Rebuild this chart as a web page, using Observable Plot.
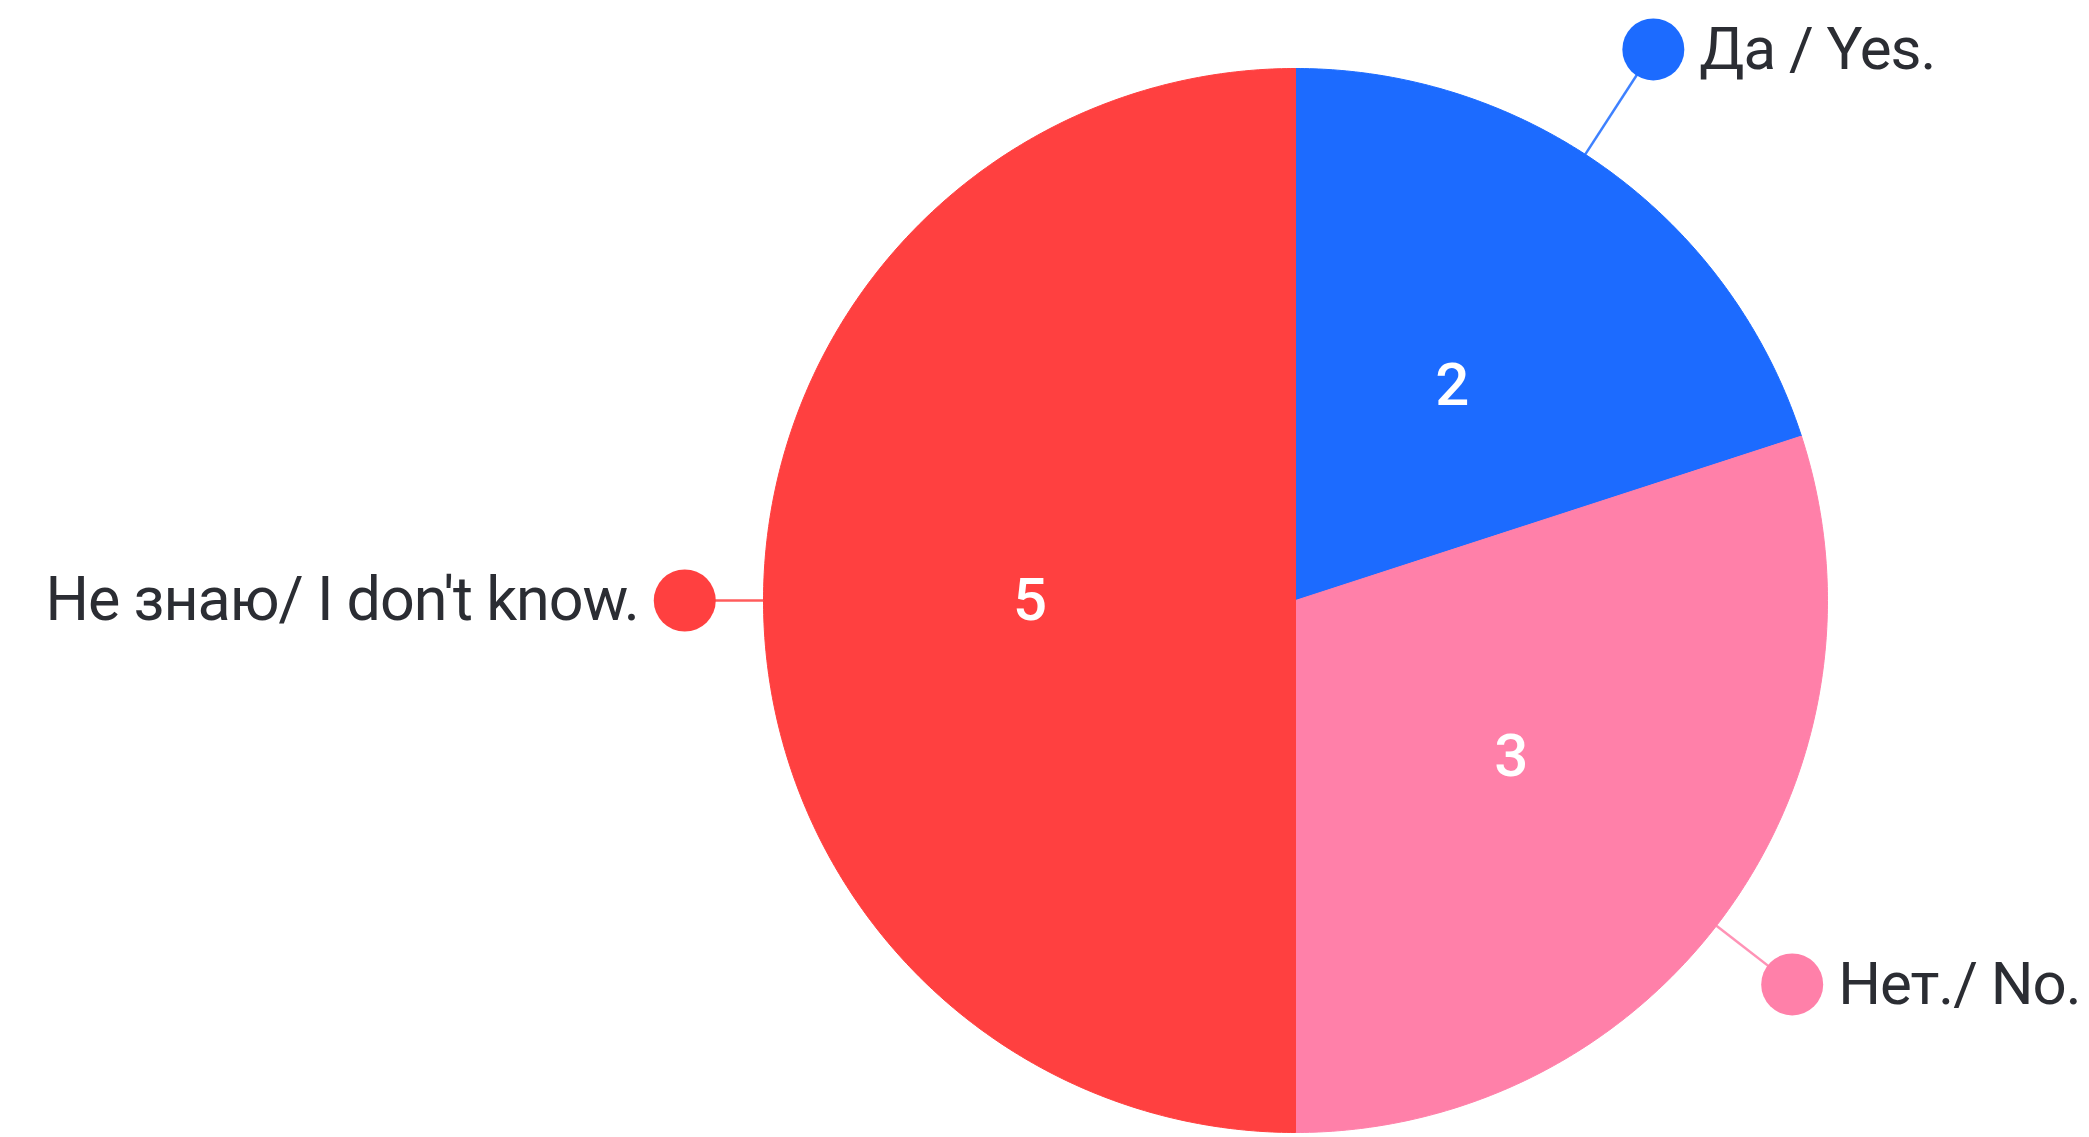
<!DOCTYPE html>
<html><head><meta charset="utf-8">
<script src="https://cdn.jsdelivr.net/npm/d3@7"></script>
<script src="https://cdn.jsdelivr.net/npm/@observablehq/plot@0.6"></script>
<style>
html,body{margin:0;padding:0;background:#fff;overflow:hidden}
#chart svg g[aria-label="text"] text{letter-spacing:-1px}
</style>
</head><body><div id="chart"></div>
<script>
// ---- data ----
const categories = ["Да / Yes.", "Нет./ No.", "Не знаю/ I don't know."];
const values = [2, 3, 5];
const colors = ["#1c6bff", "#ff80a9", "#ff4040"];

// ---- layout / style ----
const W = 2089, H = 1137;
const cx = 1295, cy = 600, R = 532;
const labelLayout = {              // leader angle offset (deg) and dot radius (×R)
  "Да / Yes.": {dAngle: -3, r: 1.235, anchor: "start"},
  "Нет./ No.": {dAngle: 1.7, r: 1.18, anchor: "start"},
  "Не знаю/ I don't know.": {dAngle: 0, r: 1.148, anchor: "end"}
};

const rows = categories.map((c, i) => ({category: c, value: values[i]}));
const arcs = d3.pie().sort(null).value(d => d.value)(rows);
const pt = (a, r) => ({x: r * Math.sin(a), y: r * Math.cos(a)});
const deg = Math.PI / 180;

const slicePts = arcs.flatMap(a => {
  const c = a.data.category;
  const n = Math.max(2, Math.ceil((a.endAngle - a.startAngle) / (0.5 * deg)));
  const pts = [{x: 0, y: 0, category: c}];
  for (let k = 0; k <= n; k++) {
    const t = a.startAngle + (a.endAngle - a.startAngle) * k / n;
    pts.push({...pt(t, 1), category: c});
  }
  pts.push({x: 0, y: 0, category: c});
  return pts;
});

const inner = arcs.map(a => {
  const m = (a.startAngle + a.endAngle) / 2;
  return {...pt(m, 0.5), value: a.data.value, category: a.data.category};
});

const outer = arcs.map(a => {
  const c = a.data.category, L = labelLayout[c];
  const m = (a.startAngle + a.endAngle) / 2 + L.dAngle * deg;
  const p0 = pt(m, 1), p1 = pt(m, L.r);
  return {category: c, x1: p0.x, y1: p0.y, x2: p1.x, y2: p1.y, anchor: L.anchor};
});

const font = "Roboto, 'Noto Sans', sans-serif";
const chart = Plot.plot({
  width: W, height: H,
  margin: 0,
  x: {domain: [-cx / R, (W - cx) / R], axis: null},
  y: {domain: [-(H - cy) / R, cy / R], axis: null},
  color: {domain: categories, range: colors},
  style: {fontFamily: font, background: "#fff"},
  marks: [
    Plot.line(slicePts, {x: "x", y: "y", z: "category", fill: "category", stroke: "category", strokeWidth: 1, curve: "linear"}),
    Plot.link(outer, {x1: "x1", y1: "y1", x2: "x2", y2: "y2", stroke: "category", strokeWidth: 2.5, strokeOpacity: 0.85}),
    Plot.dot(outer, {x: "x2", y: "y2", r: 31, fill: "category", stroke: null}),
    Plot.text(outer.filter(d => d.anchor === "start"), {x: "x2", y: "y2", text: "category", textAnchor: "start", dx: 46, fontSize: 60, fill: "#2b2d33", lineAnchor: "middle"}),
    Plot.text(outer.filter(d => d.anchor === "end"), {x: "x2", y: "y2", text: "category", textAnchor: "end", dx: -46, fontSize: 61, fill: "#2b2d33", lineAnchor: "middle"}),
    Plot.text(inner, {x: "x", y: "y", text: "value", fill: "#fff", fontSize: 60, fontWeight: 500, lineAnchor: "middle"})
  ]
});
document.getElementById("chart").appendChild(chart);
</script>
</body></html>
